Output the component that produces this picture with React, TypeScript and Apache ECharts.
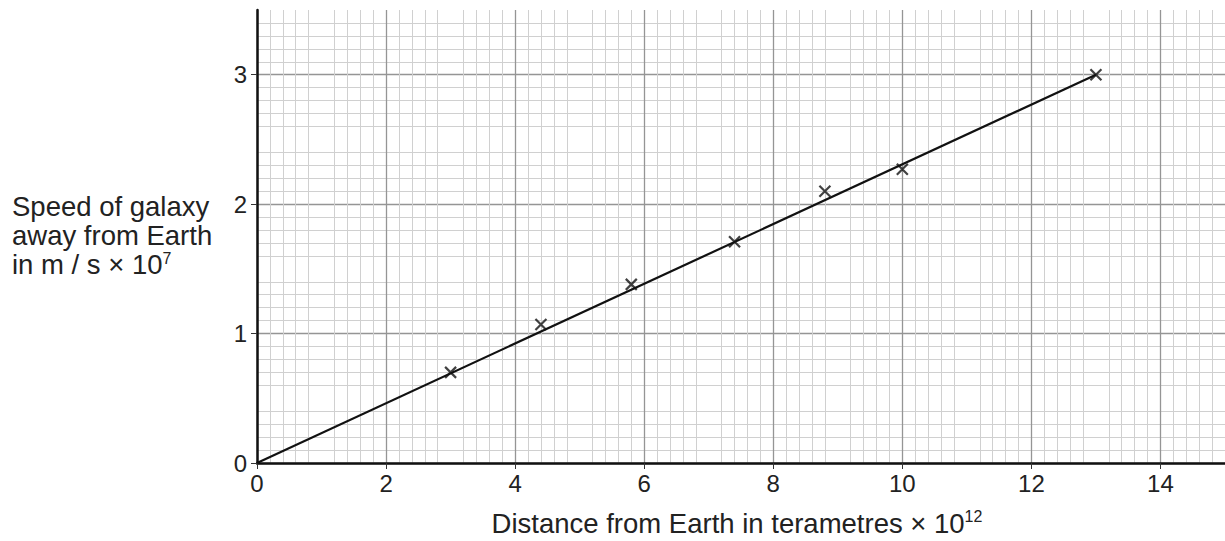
import React, { useEffect, useRef } from "react";
import * as echarts from "echarts";

const distances = [3, 4.4, 5.8, 7.4, 8.8, 10, 13];
const speeds = [0.7, 1.07, 1.38, 1.71, 2.1, 2.27, 3.0];
const fitLine = [
  [0, 0],
  [13, 3],
];
const xTickLabels = [0, 2, 4, 6, 8, 10, 12, 14];
const yTickLabels = [0, 1, 2, 3];

const FONT = "'Liberation Sans', Arial, sans-serif";

export default function App() {
  const ref = useRef<HTMLDivElement>(null);
  useEffect(() => {
    document.body.style.margin = "0";
    const chart = echarts.init(ref.current!, null, { renderer: "svg" });
    chart.setOption({
      animation: false,
      backgroundColor: "#ffffff",
      grid: { left: 257, right: 0, top: 10, bottom: 78, containLabel: false },
      xAxis: {
        type: "value",
        min: 0,
        max: 15,
        interval: 1,
        axisLine: { show: true, onZero: false, lineStyle: { color: "#111", width: 2.5 } },
        axisTick: { show: true, length: 6, customValues: xTickLabels, lineStyle: { color: "#333", width: 1 } },
        axisLabel: {
          show: true,
          customValues: xTickLabels,
          fontSize: 24,
          fontFamily: FONT,
          color: "#222",
          margin: 8,
        },
        splitLine: { show: true, lineStyle: { color: "#959595", width: 1.3 } },
        minorTick: { show: false, splitNumber: 5 },
        minorSplitLine: { show: true, lineStyle: { color: "#d0d0d0", width: 1 } },
      },
      yAxis: {
        type: "value",
        min: 0,
        max: 3.5,
        interval: 0.5,
        axisLine: { show: true, onZero: false, lineStyle: { color: "#111", width: 2.5 } },
        axisTick: { show: true, length: 6, customValues: yTickLabels, lineStyle: { color: "#333", width: 1 } },
        axisLabel: {
          show: true,
          customValues: yTickLabels,
          fontSize: 24,
          fontFamily: FONT,
          color: "#222",
          margin: 10,
        },
        splitLine: { show: true, lineStyle: { color: "#959595", width: 1.3 } },
        minorTick: { show: false, splitNumber: 5 },
        minorSplitLine: { show: true, lineStyle: { color: "#d0d0d0", width: 1 } },
      },
      series: [
        {
          type: "line",
          data: fitLine,
          symbol: "none",
          lineStyle: { color: "#111", width: 2.2 },
          z: 3,
        },
        {
          type: "scatter",
          data: distances.map((d, i) => [d, speeds[i]]),
          symbol: "path://M0,0L10,10M0,10L10,0",
          symbolSize: 11,
          itemStyle: { color: "none", borderColor: "#111", borderWidth: 2.2 },
          z: 4,
        },
      ],
      graphic: [
        {
          type: "text",
          left: 12,
          top: 192,
          style: {
            text: "Speed of galaxy\naway from Earth\nin m / s × 10{sup|7}",
            font: `27.5px ${FONT}`,
            fill: "#222",
            lineHeight: 29,
            rich: {
              sup: { fontSize: 16, fontFamily: FONT, verticalAlign: "top", lineHeight: 29, fill: "#222" },
            },
          },
        },
        {
          type: "text",
          x: 737,
          y: 523,
          style: {
            text: "Distance from Earth in terametres × 10{sup|12}",
            font: `27.5px ${FONT}`,
            fill: "#222",
            align: "center",
            verticalAlign: "middle",
            lineHeight: 30,
            rich: {
              sup: { fontSize: 16, fontFamily: FONT, verticalAlign: "top", lineHeight: 30, fill: "#222" },
            },
          },
        },
      ],
    });
    return () => chart.dispose();
  }, []);
  return <div ref={ref} style={{ width: 1225, height: 541 }} />;
}
